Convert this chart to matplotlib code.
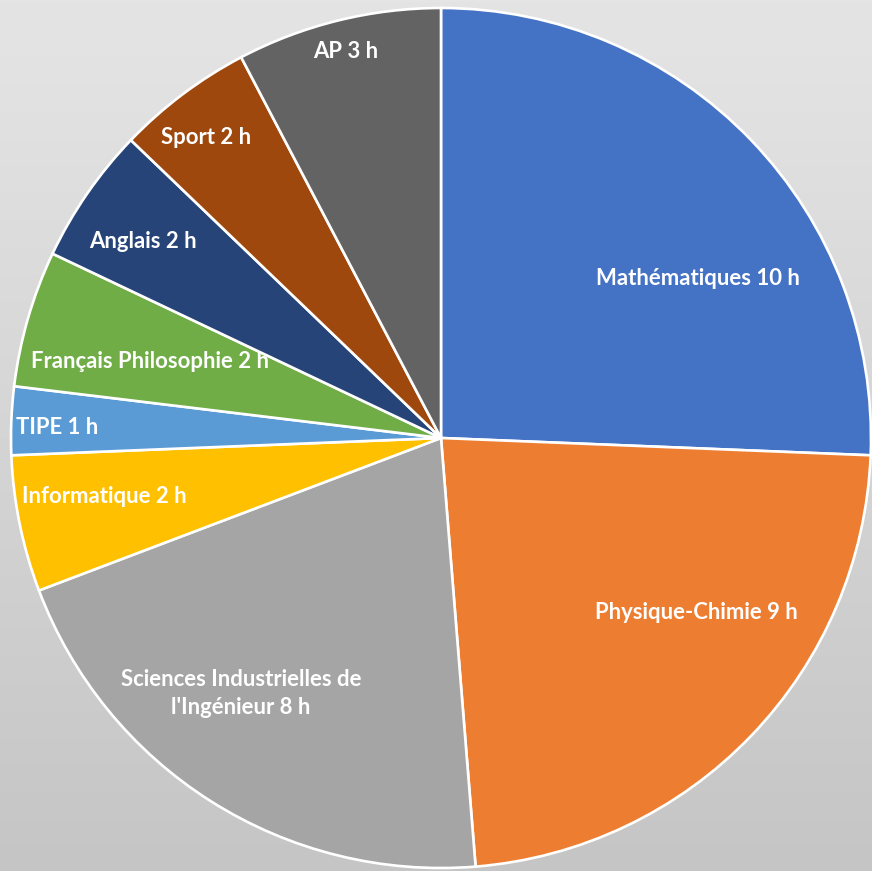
import numpy as np
import matplotlib.pyplot as plt

labels = ['Mathématiques', 'Physique-Chimie', "Sciences Industrielles de\nl'Ingénieur", 'Informatique',
          'TIPE', 'Français Philosophie', 'Anglais', 'Sport', 'AP']
hours = [10, 9, 8, 2, 1, 2, 2, 2, 3]
colors = ['#4472C4', '#ED7D31', '#A5A5A5', '#FFC000', '#5B9BD5', '#70AD47', '#264478', '#9E480E', '#636363']

# label centers, offset from pie center in units of radius (x right, y up)
label_pos = [(0.598, 0.372), (0.595, -0.405), (-0.465, -0.595), (-0.782, -0.135),
             (-0.893, 0.025), (-0.677, 0.177), (-0.693, 0.456), (-0.547, 0.698), (-0.221, 0.898)]

W, H = 872, 871
fig = plt.figure(figsize=(W / 100, H / 100), dpi=100)
ax = fig.add_axes([0, 0, 1, 1])

# background gradient
grad = np.linspace(0.77, 0.895, 256).reshape(-1, 1)
ax.imshow(grad, extent=[0, W, 0, H], cmap='gray', vmin=0, vmax=1, aspect='auto', origin='lower', zorder=0)

cx, cy, r = 441, 433, 430
ax.pie(hours, colors=colors, startangle=90, counterclock=False, center=(cx, cy), radius=r,
       wedgeprops=dict(edgecolor='white', linewidth=1.9), frame=True)
ax.set_xlim(0, W)
ax.set_ylim(0, H)
ax.set_aspect('auto')
ax.axis('off')

for lab, h, (dx, dy) in zip(labels, hours, label_pos):
    ax.text(cx + dx * r, cy + dy * r, f'{lab} {h} h', ha='center', va='center', color='white',
            fontsize=15.9, fontweight='bold', family='Lato', linespacing=1.42, zorder=5)

fig.savefig('out.png', dpi=100)
